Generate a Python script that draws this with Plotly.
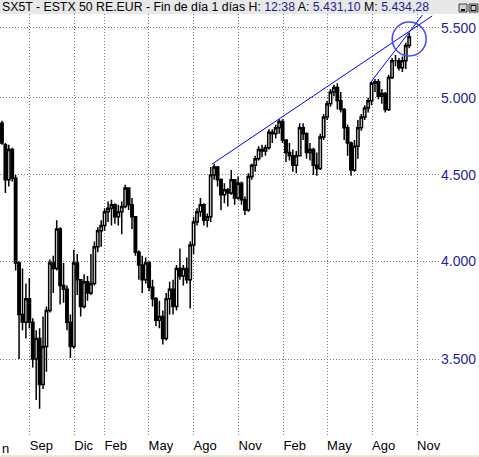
import math
import pandas as pd
import plotly.graph_objects as go

# Weekly OHLC (SX5T, Jul 2011 - Oct 2013)
opens = [4830, 4690, 4470, 4660, 4480, 3990, 3720, 3680, 3800, 3680,
         3500, 3600, 3380, 3560, 3740, 3990, 3960, 4180, 3870, 3850,
         3680, 3560, 3990, 3900, 3760, 3890, 3830, 3880, 4080, 4170,
         4200, 4280, 4300, 4320, 4250, 4280, 4310, 4420, 4320, 4250,
         4050, 3980, 3900, 3990, 3860, 3800, 3690, 3710, 3600, 3800,
         3850, 3760, 3960, 3920, 3960, 3900, 4090, 4220, 4280, 4320,
         4230, 4250, 4500, 4550, 4470, 4380, 4410, 4390, 4470, 4360,
         4450, 4350, 4290, 4490, 4560, 4600, 4660, 4650, 4670, 4770,
         4760, 4800, 4840, 4720, 4640, 4620, 4560, 4620, 4800, 4760,
         4640, 4660, 4560, 4540, 4740, 4870, 4960, 5040, 5070, 4980,
         4920, 4800, 4700, 4530, 4680, 4800, 4870, 4930, 4980, 5100,
         5110, 5010, 5030, 4920, 5140, 5260, 5260, 5210, 5260, 5370]
highs = [4845, 4700, 4690, 4670, 4500, 4000, 3960, 3880, 3910, 3700,
         3640, 3650, 3710, 3760, 4010, 4030, 4230, 4190, 3990, 3870,
         3720, 4063, 4040, 3900, 3930, 3920, 4040, 4110, 4190, 4230,
         4300, 4340, 4350, 4330, 4320, 4340, 4440, 4425, 4360, 4255,
         4060, 4030, 4020, 4000, 3900, 3810, 3790, 3740, 3830, 3890,
         3900, 3980, 4070, 3980, 4020, 4110, 4250, 4300, 4360, 4330,
         4270, 4550, 4570, 4555, 4480, 4450, 4420, 4530, 4475, 4490,
         4460, 4370, 4510, 4570, 4620, 4680, 4690, 4690, 4790, 4790,
         4820, 4855, 4855, 4725, 4700, 4660, 4650, 4830, 4830, 4770,
         4700, 4670, 4640, 4760, 4890, 4980, 5060, 5090, 5100, 5040,
         4930, 4820, 4710, 4720, 4850, 4890, 4950, 5000, 5110, 5130,
         5130, 5060, 5040, 5160, 5280, 5300, 5280, 5290, 5390, 5463]
lows = [4690, 4390, 4430, 4460, 3950, 3500, 3640, 3600, 3650, 3460,
        3310, 3270, 3360, 3440, 3730, 3830, 3950, 3770, 3780, 3640,
        3505, 3550, 3820, 3710, 3750, 3790, 3820, 3870, 4050, 4080,
        4170, 4220, 4200, 4210, 4200, 4150, 4300, 4290, 4180, 4030,
        3900, 3830, 3880, 3840, 3760, 3660, 3650, 3570, 3590, 3720,
        3720, 3740, 3900, 3870, 3880, 3750, 4040, 4200, 4250, 4200,
        4190, 4220, 4470, 4430, 4290, 4330, 4310, 4380, 4320, 4350,
        4320, 4260, 4280, 4470, 4520, 4590, 4610, 4620, 4660, 4700,
        4730, 4760, 4700, 4580, 4590, 4520, 4510, 4615, 4720, 4600,
        4590, 4500, 4495, 4530, 4720, 4850, 4940, 5010, 4920, 4900,
        4720, 4620, 4495, 4520, 4600, 4780, 4850, 4900, 4950, 5040,
        4990, 4960, 4900, 4910, 5130, 5220, 5190, 5180, 5200, 5350]
closes = [4700, 4470, 4660, 4480, 3990, 3720, 3680, 3800, 3680, 3500,
          3600, 3380, 3560, 3740, 3990, 3960, 4180, 3870, 3850, 3680,
          3560, 3990, 3900, 3760, 3890, 3830, 3880, 4080, 4170, 4200,
          4280, 4300, 4320, 4250, 4280, 4310, 4420, 4320, 4250, 4050,
          3980, 3900, 3990, 3860, 3800, 3690, 3710, 3600, 3800, 3850,
          3760, 3960, 3920, 3960, 3900, 4090, 4220, 4280, 4320, 4230,
          4250, 4500, 4550, 4470, 4380, 4410, 4390, 4470, 4360, 4450,
          4350, 4290, 4490, 4560, 4600, 4660, 4650, 4670, 4770, 4760,
          4800, 4840, 4720, 4640, 4620, 4560, 4620, 4800, 4760, 4640,
          4660, 4560, 4540, 4740, 4870, 4960, 5040, 5070, 4980, 4920,
          4800, 4700, 4530, 4680, 4800, 4870, 4930, 4980, 5100, 5110,
          5010, 5030, 4920, 5140, 5260, 5260, 5210, 5260, 5370, 5434]
week_dates = pd.date_range("2011-07-06", periods=len(closes), freq="7D")

month_ticks = ["2011-09-01", "2011-12-01", "2012-02-01", "2012-05-01",
               "2012-08-01", "2012-11-01", "2013-02-01", "2013-05-01",
               "2013-08-01", "2013-11-01"]
month_labels = ["Sep", "Dic", "Feb", "May", "Ago", "Nov", "Feb", "May",
                "Ago", "Nov"]
price_ticks = [3500, 4000, 4500, 5000, 5500]
price_labels = ["3.500", "4.000", "4.500", "5.000", "5.500"]

trend_long_dates = ["2012-09-08", "2013-12-02"]
trend_long_values = [4568, 5591]
trend_short_dates = ["2013-07-28", "2013-11-12"]
trend_short_values = [5102, 5598]
circle_dates = ["2013-10-16"]
circle_values = [5418]

NAVY = "#1f1f8f"
FONT = "Liberation Sans"
W, H = 479, 457
ML, MR, MT, MB = 0, 39, 14, 21
PW = W - ML - MR
PH = H - MT - MB

fig = go.Figure()
fig.add_trace(go.Candlestick(
    x=week_dates, open=opens, high=highs, low=lows, close=closes,
    increasing=dict(line=dict(color="black", width=1.5), fillcolor="white"),
    decreasing=dict(line=dict(color="black", width=1.5), fillcolor="black"),
    whiskerwidth=0, showlegend=False, hoverinfo="skip"))
fig.add_trace(go.Scatter(x=trend_long_dates, y=trend_long_values, mode="lines",
                         line=dict(color="#0000ff", width=1), showlegend=False))
fig.add_trace(go.Scatter(x=trend_short_dates, y=trend_short_values, mode="lines",
                         line=dict(color="#0000ff", width=1), showlegend=False))
fig.add_trace(go.Scatter(x=circle_dates, y=circle_values, mode="markers",
                         marker=dict(symbol="circle-open", size=34,
                                     line=dict(color="#4646ff", width=1.5),
                                     color="#4646ff"),
                         showlegend=False))

title_html = ("SX5T - ESTX 50 RE.EUR - Fin de día 1 días H: "
              f"<span style='color:{NAVY}'>12:38</span> A: "
              f"<span style='color:{NAVY}'>5.431,10</span> M: "
              f"<span style='color:{NAVY}'>5.434,28</span>")

def px_x(px):
    return (px - ML) / PW

def px_y(py):
    return (H - MB - py) / PH

shapes = [
    dict(type="rect", xref="paper", yref="paper", x0=px_x(0), x1=px_x(W),
         y0=px_y(14), y1=px_y(0), fillcolor="#e8e8e8", line=dict(width=0),
         layer="above"),
    dict(type="rect", xref="paper", yref="paper", x0=px_x(459), x1=px_x(467),
         y0=px_y(12), y1=px_y(4), fillcolor="#d4d0c8",
         line=dict(color="#404040", width=1), layer="above"),
    dict(type="line", xref="paper", yref="paper", x0=px_x(461), x1=px_x(465),
         y0=px_y(10), y1=px_y(10), line=dict(color="black", width=2),
         layer="above"),
    dict(type="rect", xref="paper", yref="paper", x0=px_x(469), x1=px_x(478),
         y0=px_y(12), y1=px_y(4), fillcolor="#d4d0c8",
         line=dict(color="#404040", width=1), layer="above"),
    dict(type="rect", xref="paper", yref="paper", x0=px_x(471), x1=px_x(476),
         y0=px_y(10.5), y1=px_y(5.5), fillcolor="rgba(0,0,0,0)",
         line=dict(color="black", width=1), layer="above"),
    dict(type="rect", xref="paper", yref="paper", x0=px_x(0), x1=px_x(W),
         y0=px_y(457), y1=px_y(455), fillcolor="#ece9d8", line=dict(width=0),
         layer="above"),
]

annotations = [
    dict(text=title_html, xref="paper", yref="paper", x=px_x(0), y=px_y(7),
         xanchor="left", yanchor="middle", showarrow=False,
         font=dict(family=FONT, size=12.3, color="black")),
    dict(text="n", xref="paper", yref="paper", x=px_x(0), y=px_y(448),
         xanchor="left", yanchor="middle", showarrow=False,
         font=dict(family=FONT, size=13, color="black")),
]

fig.update_layout(
    width=W, height=H,
    margin=dict(l=ML, r=MR, t=MT, b=MB, pad=0),
    paper_bgcolor="white", plot_bgcolor="white",
    font=dict(family=FONT, size=13, color="black"),
    shapes=shapes, annotations=annotations,
    boxgap=0,
    xaxis=dict(type="date", range=["2011-07-02", "2013-12-18"],
               tickmode="array", tickvals=month_ticks, ticktext=month_labels,
               ticklabelposition="outside right",
               showgrid=True, gridcolor="#7a7a7a", griddash="1px,2px", gridwidth=1,
               ticks="", showline=False, zeroline=False,
               rangeslider=dict(visible=False),
               tickfont=dict(family=FONT, size=13, color="black")),
    yaxis=dict(type="log", side="right",
               range=[math.log10(3151), math.log10(5606)],
               tickmode="array", tickvals=price_ticks, ticktext=price_labels,
               showgrid=True, gridcolor="#7a7a7a", griddash="1px,2px", gridwidth=1,
               ticks="", showline=False, zeroline=False,
               tickfont=dict(family=FONT, size=14, color=NAVY)),
)

fig.write_html("out.html", config={"displayModeBar": False},
               post_script="document.body.style.margin='0';")
